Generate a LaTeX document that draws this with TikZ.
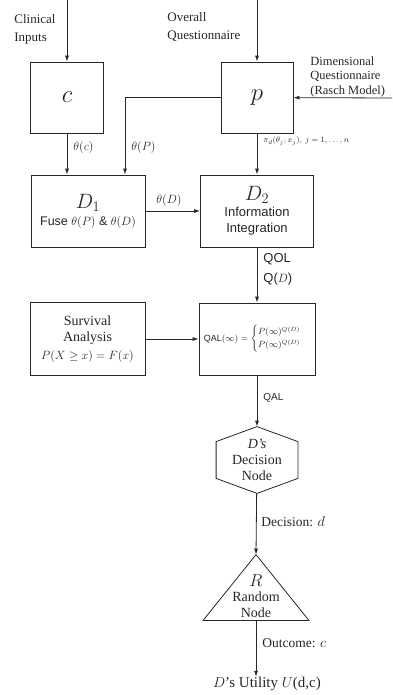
\documentclass[tikz,border=0pt]{standalone}
\usepackage{amsmath,amssymb}
\usepackage{fontspec}
\setmainfont{Liberation Serif}
\setsansfont{Liberation Sans}
\usetikzlibrary{arrows.meta,positioning,calc}

\begin{document}
\begin{tikzpicture}[x=1pt,y=-1pt,line width=.8pt,color=black!85,
 font=\fontsize{14}{16}\selectfont,
 box/.style={draw,align=center,inner sep=1pt},
 arr/.style={-{Latex[length=6pt,width=4pt]}},
 lbl/.style={anchor=west,inner sep=0pt,font=\sffamily\fontsize{13}{15}\selectfont}]
\useasboundingbox (0,0) rectangle (392,695);
% free ends of the inputs
\coordinate (cin) at (67,0);
\coordinate (pin) at (257,0);
\coordinate (din) at (392,98);
\node[align=left,anchor=north west,inner sep=0pt,font=\fontsize{13}{18}\selectfont] (clin) at (14,14) {Clinical\\Inputs};
\node[align=left,anchor=north west,inner sep=0pt,font=\fontsize{13}{18}\selectfont] (ovq) at (167,12) {Overall\\Questionnaire};
\node[align=left,anchor=north west,inner sep=0pt,font=\fontsize{12.5}{14.5}\selectfont] (dimq) at (310,56) {Dimensional\\Questionnaire\\(Rasch Model)};
% boxes
\node[box,minimum width=73,minimum height=71] (c) at (67,97.5) {\fontsize{28}{28}\selectfont$c$};
\node[box,minimum width=72,minimum height=71] (p) at (257,97.5) {\fontsize{28}{28}\selectfont$p$};
\node[box,minimum width=114,minimum height=72] (D1) at (88,211)
 {\fontsize{20}{22}\selectfont$D_1$\\[1pt]\sffamily\fontsize{12.5}{14}\selectfont Fuse $\theta(P)$ \& $\theta(D)$};
\node[box,minimum width=113,minimum height=72] (D2) at (257,211)
 {\fontsize{20}{20}\selectfont$D_2$\\\sffamily\fontsize{13}{17}\selectfont Information\\\sffamily\fontsize{13}{17}\selectfont Integration};
\node[box,minimum width=115,minimum height=73] (surv) at (87.5,339)
 {Survival\\Analysis\\[2pt]\fontsize{13}{15}\selectfont$P(X\geq x)=F(x)$};
\node[box,minimum width=116,minimum height=72,font=\sffamily\fontsize{9}{10}\selectfont] (qal) at (257,339)
 {QAL$(\infty)=\begin{cases}P(\infty)^{Q(D)}\\[1pt] P(\infty)^{Q(D)}\end{cases}$};
\node[align=center,minimum width=81,minimum height=66,inner sep=0pt] (dec) at (257,460) {\textit{D's}\\Decision\\Node};
\draw (dec.north) -- ($(dec.north east)+(0,15)$) -- ($(dec.south east)+(0,-15)$) -- (dec.south)
 -- ($(dec.south west)+(0,-15)$) -- ($(dec.north west)+(0,15)$) -- cycle;
\node[minimum width=105,minimum height=65,inner sep=0pt] (rnd) at (256,587.5) {};
\draw (rnd.north) -- (rnd.south east) -- (rnd.south west) -- cycle;
\node[align=center,inner sep=0pt] (rndtxt) at (256,596) {\fontsize{18}{18}\selectfont$R$\\[-1pt]Random\\Node};
\node[inner sep=0pt,font=\fontsize{15}{17}\selectfont] (util) at (267,684) {$D$'s Utility $U$(d,c)};
% connectors
\draw[arr] (cin) -- (c);
\draw[arr] (pin) -- (p);
\draw[arr] (din) -- (p);
\draw[arr] (c) -- (c |- D1.north);
\draw[arr] (p.west) -| ([xshift=37]D1.north);
\draw[arr] (p) -- (D2);
\draw[arr] (D1) -- (D2);
\draw[arr] (D2) -- (qal);
\draw[arr] (surv) -- (qal);
\draw[arr] (qal) -- (dec);
\draw[arr] (dec) -- (rnd.north);
\draw[arr] (rnd.south) -- (rnd.south |- util.north);
% labels on the connectors
\node[lbl] (thc) at (73,148) {$\theta(c)$};
\node[lbl] (thp) at (131,148) {$\theta(P)$};
\node[lbl] (thd) at (156,200) {$\theta(D)$};
\node[lbl,font=\fontsize{8}{10}\selectfont] (pid) at (263,141) {$\pi_d(\theta_j;x_j),\ j=1,\ldots,n$};
\node[lbl] (qol) at (263,259) {QOL};
\node[lbl] (qd) at (263,279) {Q($D$)};
\node[lbl,font=\sffamily\fontsize{10}{12}\selectfont] (qaltxt) at (263,398) {QAL};
\node[lbl,font=\fontsize{13.5}{16}\selectfont] (dtxt) at (261,522) {Decision: $d$};
\node[lbl,font=\fontsize{13.5}{16}\selectfont] (otxt) at (262,643) {Outcome: $c$};
\end{tikzpicture}
\end{document}
